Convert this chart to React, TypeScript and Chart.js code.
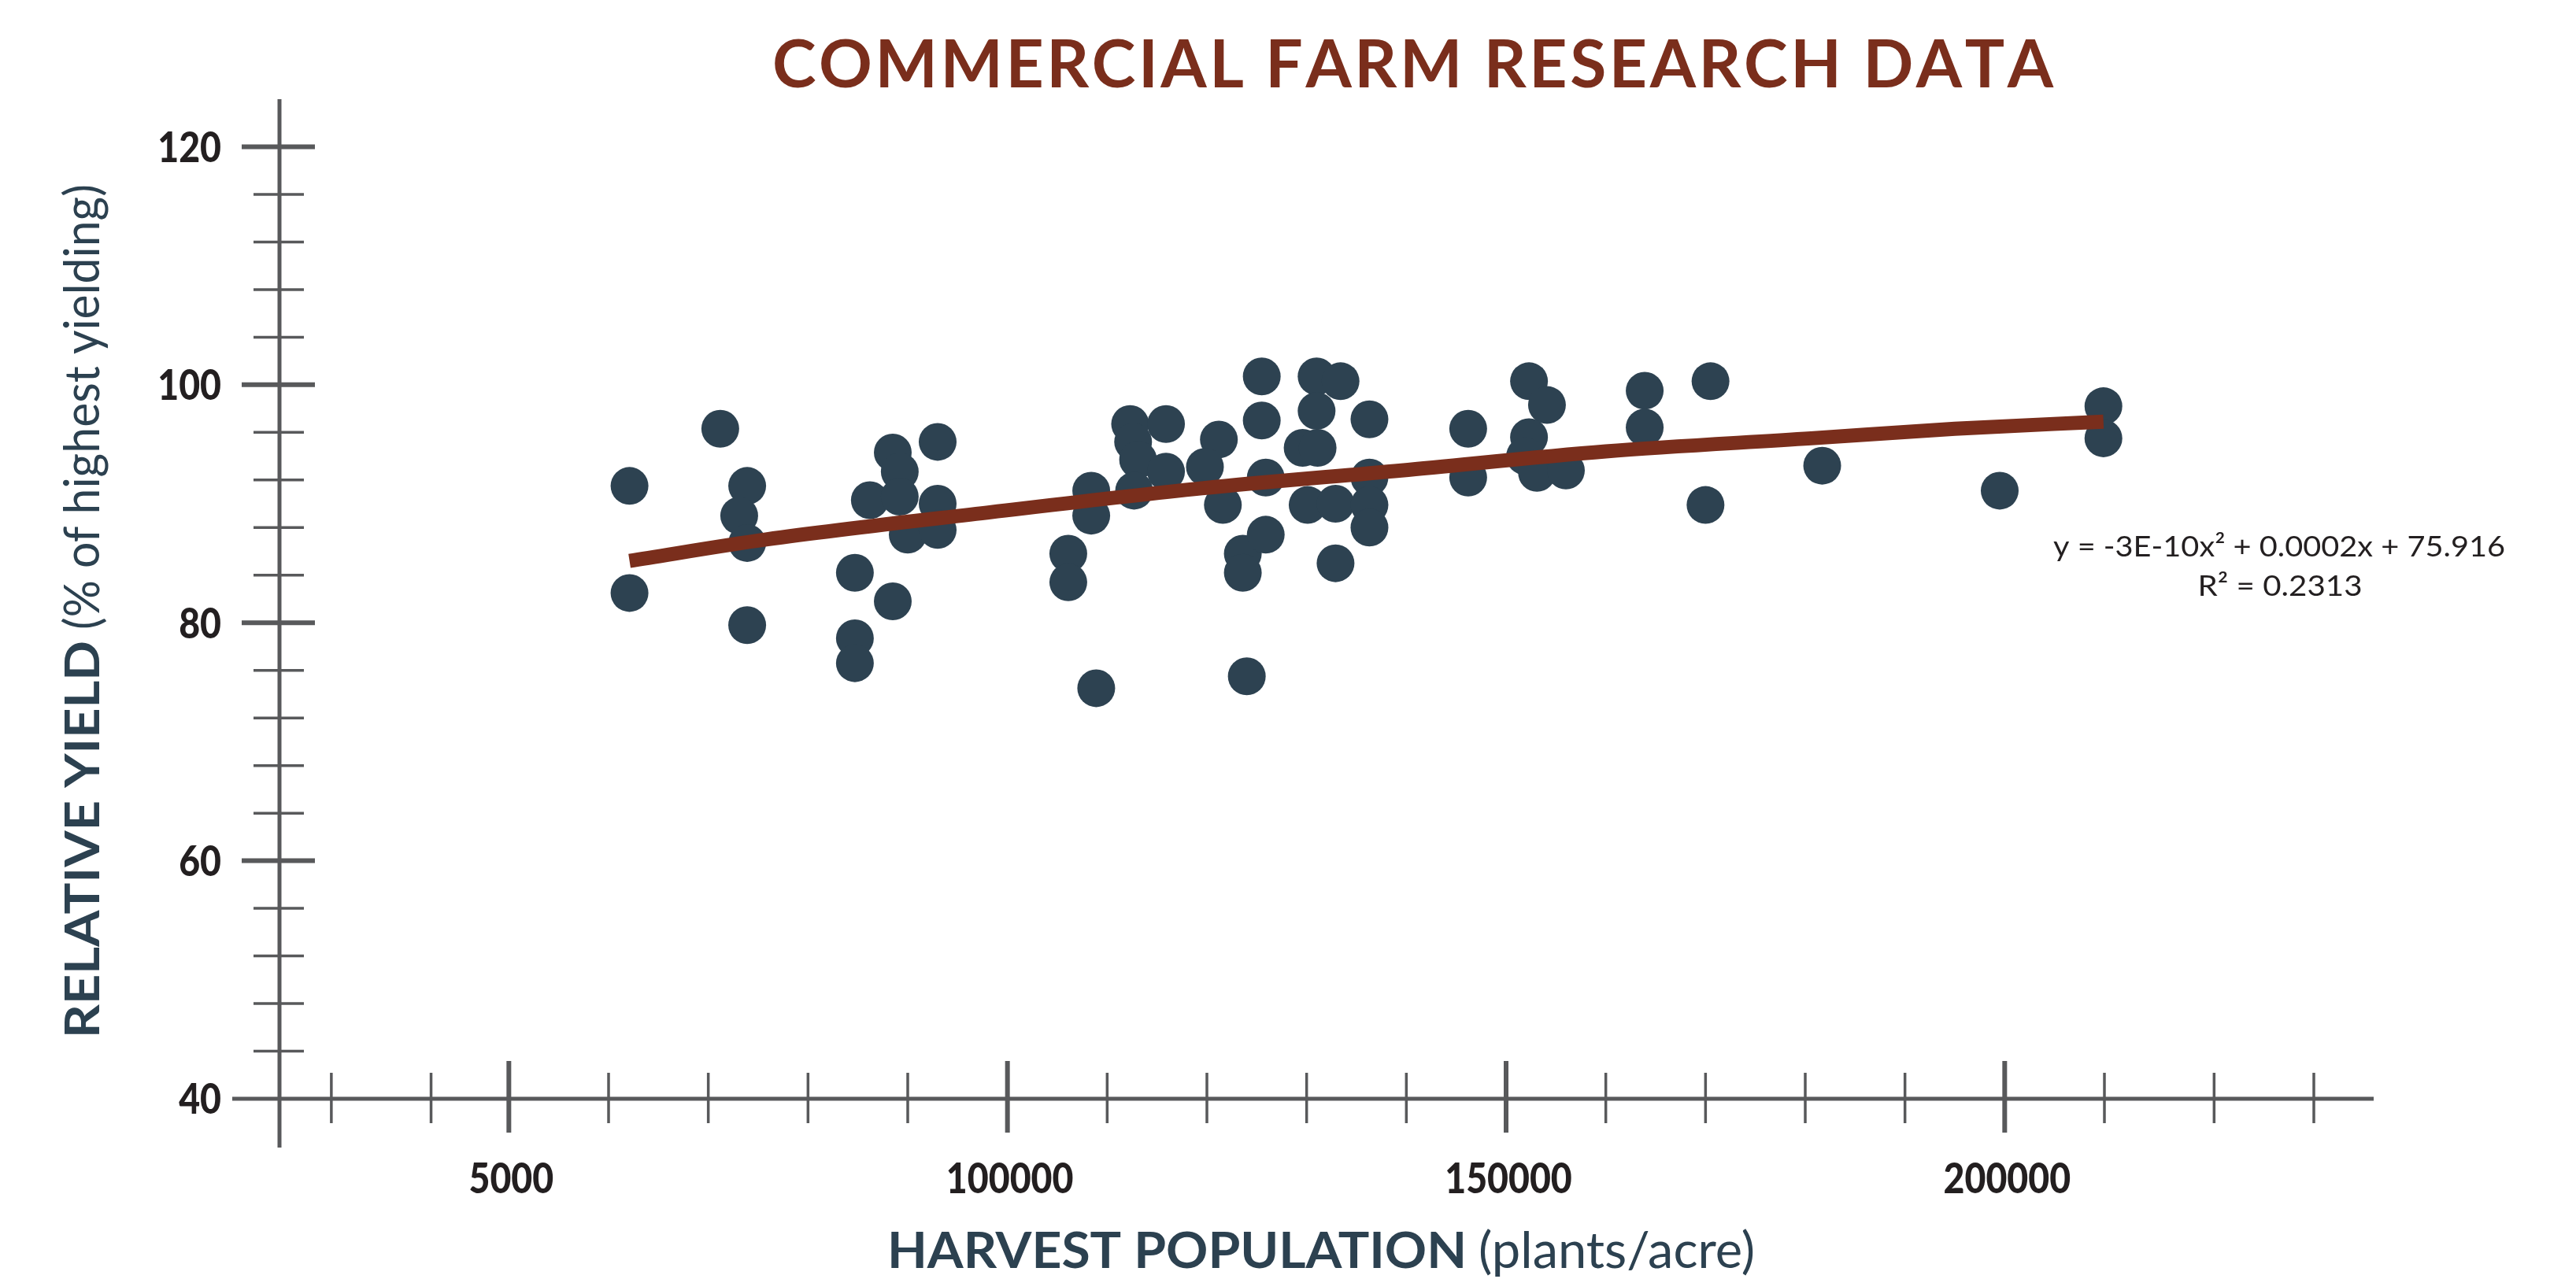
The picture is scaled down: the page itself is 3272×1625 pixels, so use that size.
import React, { useEffect, useRef } from "react";
import { Chart, registerables } from "chart.js";

Chart.register(...registerables);

// ---------- data ----------
const harvestPopulation = [
  62100, 62100, 71200, 73900, 73100, 73900, 73900, 84700, 84700, 84700,
  88500, 86200, 88500, 89200, 89200, 90000, 93000, 93000, 93000,
  106100, 106100, 108400, 108400, 108900, 112300, 112600, 113100, 112700, 115900,
  115900, 121200, 119800, 121600, 123600, 123600, 125900, 124000, 125500, 125500,
  125900, 131000, 133400, 131000, 129600, 131100, 136300, 136300, 130100, 132900,
  136300, 136300, 132900,
  146200, 146200, 152300, 154100, 152300, 151900, 153100, 156000, 163900, 163900,
  170500, 170000,
  181700, 199500, 209900, 209900,
];
const relativeYield = [
  91.5, 82.5, 96.3, 91.5, 89.0, 86.7, 79.8, 84.2, 78.7, 76.6,
  81.8, 90.3, 94.3, 92.7, 90.6, 87.4, 95.2, 90.0, 87.8,
  85.8, 83.4, 91.1, 89.0, 74.5, 96.7, 95.2, 93.7, 91.1, 96.7,
  92.7, 95.4, 93.1, 89.9, 85.8, 84.2, 87.4, 75.5, 100.7, 97.0,
  92.2, 100.7, 100.3, 97.8, 94.7, 94.7, 97.1, 92.2, 89.9, 90.0,
  89.9, 88.0, 85.0,
  96.3, 92.2, 100.3, 98.3, 95.6, 94.0, 92.6, 92.8, 99.5, 96.4,
  100.3, 89.9,
  93.2, 91.1, 98.2, 95.5,
];
const trendX = [62100, 75800, 98400, 119500, 139500, 160000, 180600, 195000, 209900];
const trendY = [85.2, 87.0, 89.3, 91.3, 92.8, 94.4, 95.5, 96.3, 96.9];

const xMajorTicks = [50000, 100000, 150000, 200000];
const xTickLabels = ["5000", "100000", "150000", "200000"];
// unlabeled minor tick marks as placed in the reference
const xMinorTicks = [
  32200, 42200, 60000, 70000, 80000, 90000, 110000, 120000, 130000, 140000,
  160000, 170000, 180000, 190000, 210000, 221000, 231000,
];
const yMajorTicks = [40, 60, 80, 100, 120];
const yTickLabels = ["40", "60", "80", "100", "120"];
const yMinorTicks = [44, 48, 52, 56, 64, 68, 72, 76, 84, 88, 92, 96, 104, 108, 112, 116];

const titleText = "COMMERCIAL FARM RESEARCH DATA";
const xTitleBold = "HARVEST POPULATION";
const xTitleLight = "(plants/acre)";
const yTitleBold = "RELATIVE YIELD";
const yTitleLight = "(% of highest yielding)";
const equationLine1 = "y = -3E-10x\u00B2 + 0.0002x + 75.916";
const equationLine2 = "R\u00B2 = 0.2313";

// ---------- styles ----------
const W = 3272;
const H = 1625;
const AXIS_COLOR = "#58595b";
const LABEL_COLOR = "#231f20";
const TITLE_COLOR = "#7a2e1c";
const AXIS_TITLE_COLOR = "#2c4150";
const POINT_COLOR = "#2d4251";
const LINE_COLOR = "#7a2e1c";
const FONT = "Lato, 'Noto Sans', sans-serif";

function fitText(
  ctx: CanvasRenderingContext2D,
  text: string,
  x: number,
  y: number,
  font: string,
  width: number,
  align: "left" | "center"
) {
  ctx.font = font;
  const w = ctx.measureText(text).width;
  const sx = width / w;
  ctx.save();
  ctx.translate(align === "center" ? x - width / 2 : x, y);
  ctx.scale(sx, 1);
  ctx.textAlign = "left";
  ctx.textBaseline = "alphabetic";
  ctx.fillText(text, 0, 0);
  ctx.restore();
}

function scaledText(
  ctx: CanvasRenderingContext2D,
  text: string,
  x: number,
  y: number,
  font: string,
  sx: number,
  align: CanvasTextAlign
) {
  ctx.save();
  ctx.font = font;
  ctx.translate(x, y);
  ctx.scale(sx, 1);
  ctx.textAlign = align;
  ctx.textBaseline = "alphabetic";
  ctx.fillText(text, 0, 0);
  ctx.restore();
}

const decorPlugin = {
  id: "decor",
  beforeDatasetsDraw(chart: any) {
    const { ctx, chartArea } = chart;
    const xs = chart.scales.x;
    const ys = chart.scales.y;
    const ax = chartArea.left;
    const ay = chartArea.bottom;
    ctx.save();
    ctx.strokeStyle = AXIS_COLOR;
    ctx.lineCap = "butt";

    // axis lines
    ctx.lineWidth = 5;
    ctx.beginPath();
    ctx.moveTo(ax, chartArea.top);
    ctx.lineTo(ax, ay + 62);
    ctx.moveTo(ax - 60, ay);
    ctx.lineTo(chartArea.right, ay);
    ctx.stroke();

    // y ticks
    ctx.lineWidth = 6;
    ctx.beginPath();
    yMajorTicks.forEach((v) => {
      if (v === 40) return;
      const py = ys.getPixelForValue(v);
      ctx.moveTo(ax - 48, py);
      ctx.lineTo(ax + 45, py);
    });
    ctx.stroke();
    ctx.lineWidth = 3.5;
    ctx.beginPath();
    yMinorTicks.forEach((v) => {
      const py = ys.getPixelForValue(v);
      ctx.moveTo(ax - 33, py);
      ctx.lineTo(ax + 31, py);
    });
    ctx.stroke();

    // x ticks
    ctx.lineWidth = 6;
    ctx.beginPath();
    xMajorTicks.forEach((v) => {
      const px = xs.getPixelForValue(v);
      ctx.moveTo(px, ay - 48);
      ctx.lineTo(px, ay + 43);
    });
    ctx.stroke();
    ctx.lineWidth = 3.5;
    ctx.beginPath();
    xMinorTicks.forEach((v) => {
      const px = xs.getPixelForValue(v);
      ctx.moveTo(px, ay - 33);
      ctx.lineTo(px, ay + 31);
    });
    ctx.stroke();

    // tick labels
    ctx.fillStyle = LABEL_COLOR;
    const tickSize = 54;
    const tickFont = `900 ${tickSize}px ${FONT}`;
    const capHalf = (tickSize * 0.7165) / 2;
    yMajorTicks.forEach((v, i) => {
      const py = ys.getPixelForValue(v);
      scaledText(ctx, yTickLabels[i], 281, py + capHalf, tickFont, 0.86, "right");
    });
    xMajorTicks.forEach((v, i) => {
      const px = xs.getPixelForValue(v);
      scaledText(ctx, xTickLabels[i], px + 3, 1497 + capHalf, tickFont, 0.86, "center");
    });

    // chart title with letter spacing
    ctx.fillStyle = TITLE_COLOR;
    ctx.font = `700 84px ${FONT}`;
    ctx.textAlign = "left";
    ctx.textBaseline = "alphabetic";
    const chars = titleText.split("");
    const rawW = chars.reduce((s, c) => s + ctx.measureText(c).width, 0);
    const ls = (1627 - rawW) / (chars.length - 1);
    let cx = 981;
    chars.forEach((c) => {
      ctx.fillText(c, cx, 111);
      cx += ctx.measureText(c).width + ls;
    });

    // x axis title
    ctx.fillStyle = AXIS_TITLE_COLOR;
    fitText(ctx, xTitleBold, 1127, 1611, `700 63px ${FONT}`, 736, "left");
    fitText(ctx, xTitleLight, 1878, 1611, `400 63px ${FONT}`, 351, "left");

    // y axis title (rotated)
    ctx.save();
    ctx.translate(126, 1319);
    ctx.rotate(-Math.PI / 2);
    fitText(ctx, yTitleBold, 0, 0, `700 61px ${FONT}`, 505, "left");
    fitText(ctx, yTitleLight, 519, 0, `400 61px ${FONT}`, 566, "left");
    ctx.restore();

    // regression equation
    ctx.fillStyle = "#231f20";
    fitText(ctx, equationLine1, 2895, 707, `400 37px ${FONT}`, 574, "center");
    fitText(ctx, equationLine2, 2896, 757, `400 37px ${FONT}`, 209, "center");

    ctx.restore();
  },
};

export default function App() {
  const canvasRef = useRef<HTMLCanvasElement | null>(null);

  useEffect(() => {
    const canvas = canvasRef.current;
    if (!canvas) return;
    const points = harvestPopulation.map((x, i) => ({ x, y: relativeYield[i] }));
    const trend = trendX.map((x, i) => ({ x, y: trendY[i] }));

    const chart = new Chart(canvas, {
      type: "scatter",
      data: {
        datasets: [
          {
            label: "Trend",
            data: trend,
            showLine: true,
            order: 0,
            borderColor: LINE_COLOR,
            backgroundColor: LINE_COLOR,
            borderWidth: 18,
            borderCapStyle: "butt",
            pointRadius: 0,
            pointHoverRadius: 0,
            cubicInterpolationMode: "monotone",
            clip: false,
          } as any,
          {
            label: "Relative yield",
            data: points,
            order: 1,
            pointRadius: 24,
            pointHoverRadius: 24,
            pointBackgroundColor: POINT_COLOR,
            pointBorderWidth: 0,
            borderWidth: 0,
            clip: false,
          } as any,
        ],
      },
      options: {
        responsive: false,
        maintainAspectRatio: false,
        devicePixelRatio: 1,
        animation: false,
        events: [],
        layout: { padding: { left: 355, right: W - 3015, top: 126, bottom: H - 1396 } },
        plugins: {
          legend: { display: false },
          tooltip: { enabled: false },
          title: { display: false },
        },
        scales: {
          x: { type: "linear", min: 27000, max: 237000, display: false },
          y: { type: "linear", min: 40, max: 124, display: false },
        },
      },
      plugins: [decorPlugin],
    });
    return () => chart.destroy();
  }, []);

  return (
    <div style={{ position: "fixed", left: 0, top: 0, width: W, height: H, background: "#ffffff" }}>
      <canvas ref={canvasRef} width={W} height={H} style={{ display: "block", width: W, height: H }} />
    </div>
  );
}
